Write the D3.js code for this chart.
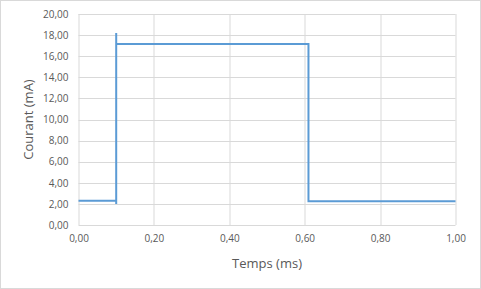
<!DOCTYPE html>
<html>
<head>
<meta charset="utf-8">
<script src="https://cdn.jsdelivr.net/npm/d3@7"></script>
<style>
  body { margin: 0; background: #fff; }
  text { font-family: "Open Sans", "Liberation Sans", sans-serif; fill: #595959; }
</style>
</head>
<body>
<div class="chart"></div>
<script>
// Data (time in ms, current in mA)
var timeValues = [0, 0.1, 0.1, 0.1, 0.1, 0.61, 0.61, 1.0];
var currentValues = [2.3, 2.3, 2.0, 18.2, 17.15, 17.15, 2.25, 2.25];
var xTicks = [0, 0.2, 0.4, 0.6, 0.8, 1.0];
var yTicks = [0, 2, 4, 6, 8, 10, 12, 14, 16, 18, 20];

var data = timeValues.map((t, i) => ({ t: t, c: currentValues[i] }));

// Chart Params
var svgWidth = 481;
var svgHeight = 289;
var margin = { top: 14, right: 26, bottom: 64, left: 78.5 };
var width = 455.5 - margin.left;
var height = 225 - margin.top;

var fmt = d => d.toFixed(2).replace(".", ",");

var svg = d3.select(".chart")
  .append("svg")
  .attr("width", svgWidth)
  .attr("height", svgHeight);

// outer border
svg.append("rect")
  .attr("x", 0.5).attr("y", 0.5)
  .attr("width", svgWidth - 1).attr("height", svgHeight - 1)
  .attr("fill", "#fff")
  .attr("stroke", "#d9d9d9");

var chartGroup = svg.append("g")
  .attr("transform", `translate(${margin.left}, ${margin.top})`);

var xScale = d3.scaleLinear().domain([0, 1]).range([0, width]);
var yScale = d3.scaleLinear().domain([0, 20]).range([height, 0]);

// gridlines
chartGroup.append("g")
  .selectAll("line.h")
  .data(yTicks)
  .enter()
  .append("line")
  .attr("x1", 0).attr("x2", width)
  .attr("y1", d => Math.round(yScale(d)) + 0.5)
  .attr("y2", d => Math.round(yScale(d)) + 0.5)
  .attr("stroke", "#d9d9d9");

chartGroup.append("g")
  .selectAll("line.v")
  .data(xTicks)
  .enter()
  .append("line")
  .attr("y1", 0).attr("y2", height)
  .attr("x1", d => Math.round(xScale(d)) + 0.5)
  .attr("x2", d => Math.round(xScale(d)) + 0.5)
  .attr("stroke", "#d9d9d9");

// axes (labels only)
var leftAxis = d3.axisLeft(yScale).tickValues(yTicks).tickFormat(fmt).tickSize(0).tickPadding(10);
var bottomAxis = d3.axisBottom(xScale).tickValues(xTicks).tickFormat(fmt).tickSize(0).tickPadding(10);

var gy = chartGroup.append("g").call(leftAxis);
var gx = chartGroup.append("g").attr("transform", `translate(0, ${height})`).call(bottomAxis);
[gy, gx].forEach(g => {
  g.select(".domain").remove();
  g.selectAll("text").style("font-size", "10px").attr("fill", "#595959");
});

// line
var line = d3.line()
  .x(d => xScale(d.t))
  .y(d => yScale(d.c));

chartGroup.append("path")
  .datum(data)
  .attr("d", line)
  .attr("fill", "none")
  .attr("stroke", "#5b9bd5")
  .attr("stroke-width", 2)
  .attr("stroke-linejoin", "miter");

// axis titles
svg.append("text")
  .attr("transform", `translate(${margin.left + width / 2}, 268)`)
  .attr("text-anchor", "middle")
  .style("font-size", "13px")
  .text("Temps (ms)");

svg.append("text")
  .attr("transform", `translate(33, ${margin.top + height / 2}) rotate(-90)`)
  .attr("text-anchor", "middle")
  .style("font-size", "13px")
  .text("Courant (mA)");
</script>
</body>
</html>
